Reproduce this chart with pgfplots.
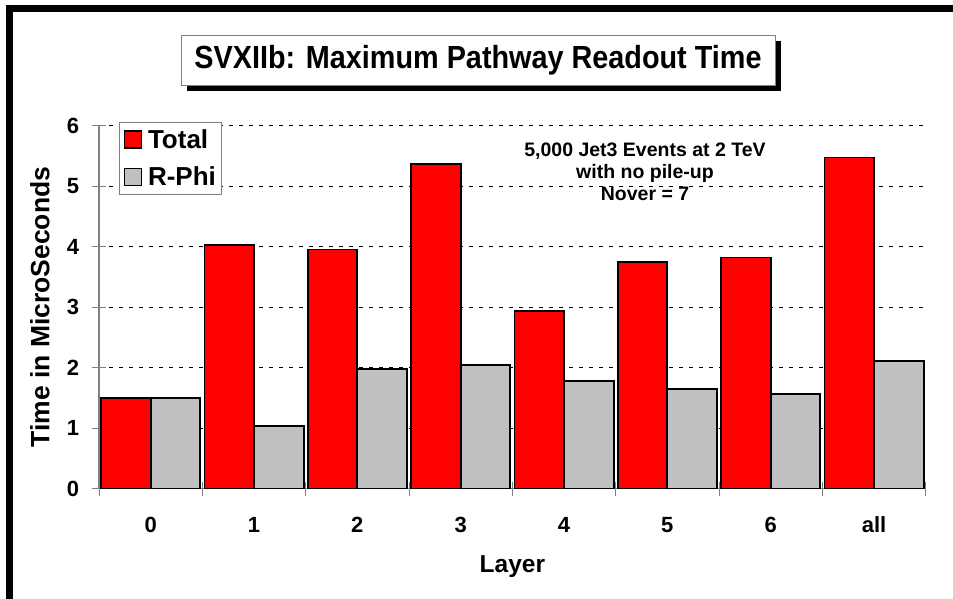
\documentclass[border=0pt]{standalone}
\usepackage{pgfplots}
\pgfplotsset{compat=1.18}
\usepackage{fontspec}
\setmainfont{Liberation Sans}
\newfontfamily\titlefont[FakeStretch=0.9]{Liberation Sans}
\definecolor{barred}{RGB}{255,0,0}
\definecolor{bargray}{RGB}{192,192,192}
\definecolor{axgray}{RGB}{128,128,128}
\begin{document}
\begin{tikzpicture}[x=1pt,y=1pt]
\useasboundingbox (0,0) rectangle (953,599);
% outer frame
\draw[line width=6.5pt] (9.5,-20) -- (9.5,590.7) -- (990,590.7);
% title box with shadow
\fill[black] (187,507.7) rectangle (781,558);
\filldraw[fill=white, draw=axgray, line width=1pt] (181,513.7) rectangle (775,563.7);
\node[font=\titlefont\bfseries\fontsize{32}{36}\selectfont] at (478,538.7) {SVXIIb: Maximum Pathway Readout Time};
\begin{axis}[
  at={(99pt,110.3pt)}, anchor=south west,
  scale only axis, width=826.7pt, height=363.2pt,
  xmin=-0.5, xmax=7.5, ymin=0, ymax=6,
  ybar=0pt, bar width=49.6pt,
  axis x line*=bottom, axis y line*=left,
  axis line style={draw=axgray, line width=1.2pt},
  xtick={-0.5,0.5,...,7.5}, xticklabels={},
  extra x ticks={0,1,2,3,4,5,6,7},
  extra x tick labels={0,1,2,3,4,5,6,all},
  extra x tick style={tick style={draw=none}, grid=none},
  ytick={0,1,...,6},
  tick align=center, major tick length=14pt,
  tick style={draw=axgray, line width=1pt},
  ymajorgrids, xmajorgrids=false,
  grid style={black, dash pattern=on 4pt off 6pt, line width=0.8pt},
  /pgf/number format/assume math mode=true,
  tick label style={font=\bfseries\fontsize{22}{26}\selectfont},
  xticklabel style={anchor=center, yshift=-29pt},
  yticklabel style={anchor=center, xshift=-19pt},
  xlabel={Layer},
  xlabel style={at={(axis description cs:0.5,-0.2148)}, anchor=center, font=\bfseries\fontsize{24.5}{28}\selectfont},
  ylabel={Time in MicroSeconds},
  ylabel style={at={(axis description cs:-0.0714,0.5)}, anchor=center, font=\bfseries\fontsize{26.5}{30}\selectfont},
  legend style={at={(0.0242,1.0097)}, anchor=north west, draw=axgray, line width=1pt,
    font=\bfseries\fontsize{26}{30}\selectfont, inner xsep=4pt, inner ysep=5pt,
    row sep=13pt, column sep=4pt, cells={anchor=west}},
  legend image code/.code={\draw[#1, line width=1.5pt] (0pt,-8.5pt) rectangle (17pt,8.5pt);},
]
\addplot[fill=barred, draw=black, line width=1.8pt] coordinates {(0,1.50) (1,4.03) (2,3.95) (3,5.37) (4,2.93) (5,3.74) (6,3.82) (7,5.47)};
\addplot[fill=bargray, draw=black, line width=1.8pt] coordinates {(0,1.50) (1,1.03) (2,1.98) (3,2.04) (4,1.78) (5,1.65) (6,1.57) (7,2.11)};
\legend{Total, R-Phi}
\end{axis}
\node[align=center, font=\bfseries\fontsize{19.5}{22}\selectfont] at (645,427) {5,000 Jet3 Events at 2 TeV\\with no pile-up\\Nover = 7};
\end{tikzpicture}
\end{document}
